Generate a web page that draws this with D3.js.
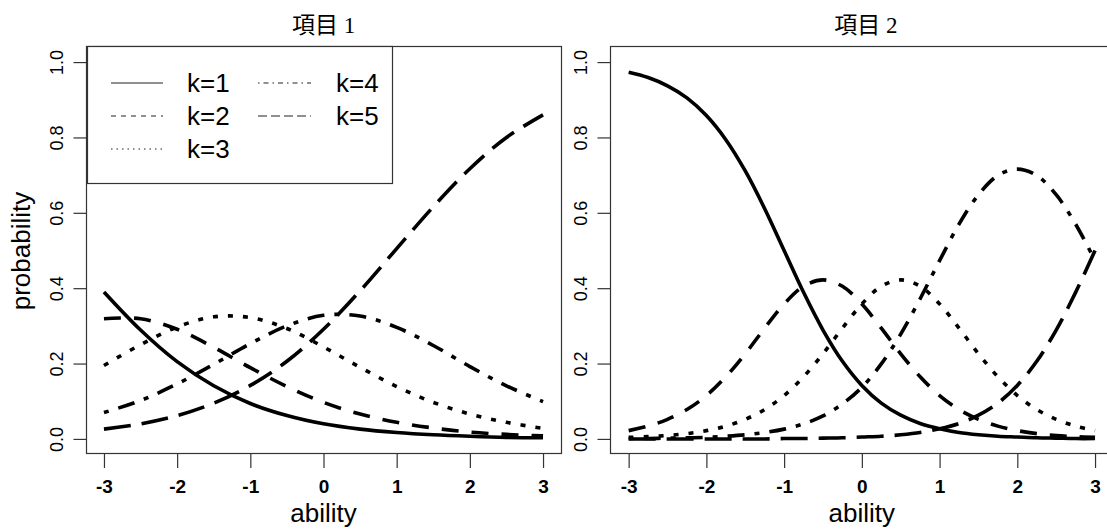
<!DOCTYPE html>
<html><head><meta charset="utf-8">
<script src="https://cdn.jsdelivr.net/npm/d3@7"></script>
<style>
html,body{margin:0;padding:0;background:#fff;}
svg{display:block;}
</style>
</head><body>
<script>
// ---------------- data ----------------
const panelTitles = ["項目 1", "項目 2"];
const seriesLabels = ["k=1", "k=2", "k=3", "k=4", "k=5"];
const xTicks = [-3, -2, -1, 0, 1, 2, 3];
const yTicks = [0, 0.2, 0.4, 0.6, 0.8, 1.0];
const yTickLabels = ["0.0", "0.2", "0.4", "0.6", "0.8", "1.0"];

const ability1 = [-3, -2.5, -2, -1.5, -1, -0.5, 0, 0.5, 1, 1.5, 2, 2.5, 3];
const item1_k1 = [0.390,0.289,0.205,0.141,0.094,0.062,0.040,0.026,0.017,0.011,0.007,0.004,0.003];
const item1_k2 = [0.319,0.319,0.291,0.243,0.189,0.139,0.097,0.066,0.044,0.029,0.018,0.012,0.008];
const item1_k3 = [0.195,0.250,0.297,0.324,0.322,0.293,0.244,0.190,0.139,0.097,0.066,0.044,0.028];
const item1_k4 = [0.070,0.102,0.146,0.198,0.253,0.300,0.328,0.326,0.296,0.248,0.192,0.141,0.099];
const item1_k5 = [0.026,0.040,0.062,0.095,0.142,0.206,0.291,0.393,0.505,0.616,0.717,0.800,0.860];

const ability2 = [-3,-2.75,-2.5,-2.25,-2,-1.75,-1.5,-1.25,-1,-0.75,-0.5,-0.25,0,0.25,0.5,0.75,1,1.25,1.5,1.75,2,2.25,2.5,2.75,3];
const item2_k1 = [0.973,0.959,0.937,0.905,0.858,0.794,0.711,0.611,0.500,0.389,0.289,0.206,0.142,0.095,0.063,0.041,0.027,0.017,0.011,0.007,0.005,0.003,0.002,0.001,0.001];
const item2_k2 = [0.022,0.034,0.052,0.078,0.115,0.165,0.226,0.294,0.358,0.405,0.422,0.405,0.358,0.294,0.226,0.165,0.115,0.078,0.052,0.034,0.022,0.014,0.009,0.006,0.004];
const item2_k3 = [0.004,0.006,0.009,0.014,0.022,0.034,0.052,0.078,0.115,0.165,0.226,0.294,0.358,0.405,0.422,0.405,0.358,0.294,0.226,0.165,0.115,0.078,0.052,0.034,0.022];
const item2_k4 = [0.001,0.001,0.002,0.003,0.004,0.007,0.011,0.017,0.026,0.040,0.061,0.093,0.137,0.199,0.278,0.372,0.473,0.570,0.648,0.699,0.716,0.699,0.648,0.570,0.473];
const item2_k5 = [0.000,0.000,0.000,0.000,0.000,0.000,0.000,0.000,0.001,0.001,0.002,0.003,0.005,0.007,0.011,0.017,0.027,0.041,0.063,0.095,0.142,0.206,0.289,0.389,0.500];

// ---------------- styles ----------------
const plotDash = [null, "17,13", "5,10", "5,10,17,10", "27,11"];
const legendDash = [null, "5,5", "1.5,4", "1.5,4,5,4", "9,4"];
const SANS = "'Liberation Sans', Arial, sans-serif";
const TITLEFONT = "'Liberation Serif', 'Noto Sans CJK JP', serif";
const FRAME = "#333";

const W = 1107, H = 530;
const svg = d3.select("body").append("svg").attr("width", W).attr("height", H);

const yScale = d3.scaleLinear().domain([-0.04, 1.04]).range([454, 47]);

function drawPanel(cfg) {
  const x = d3.scaleLinear().domain([-3.24, 3.24]).range([cfg.left, cfg.right]);
  const g = svg.append("g");

  // curves
  const line = d3.line().x(d => x(d[0])).y(d => yScale(d[1])).curve(d3.curveCatmullRom.alpha(0.5));
  cfg.series.forEach((vals, i) => {
    const pts = cfg.ability.map((a, j) => [a, vals[j]]);
    g.append("path").datum(pts)
      .attr("d", line)
      .attr("fill", "none")
      .attr("stroke", "#000")
      .attr("stroke-width", 3.6)
      .attr("stroke-linejoin", "round")
      .attr("stroke-dasharray", plotDash[i]);
  });

  // frame
  g.append("rect")
    .attr("x", Math.round(cfg.left) + 0.5).attr("y", 46.5)
    .attr("width", Math.round(cfg.right) - Math.round(cfg.left)).attr("height", 407)
    .attr("fill", "none").attr("stroke", FRAME).attr("stroke-width", 1.2);

  // x axis
  const xa = g.append("g").attr("transform", "translate(0,454)")
    .call(d3.axisBottom(x).tickValues(xTicks).tickSize(14).tickPadding(12).tickFormat(d => String(d)));
  xa.select(".domain").remove();
  xa.selectAll(".tick line").attr("stroke", FRAME).attr("stroke-width", 1.2);
  xa.selectAll(".tick text").attr("fill", "#000")
    .style("font-family", SANS).style("font-size", "19px").style("font-weight", "bold");

  // y axis
  const ya = g.append("g").attr("transform", `translate(${Math.round(cfg.left) + 0.5},0)`)
    .call(d3.axisLeft(yScale).tickValues(yTicks).tickSize(13).tickFormat((d, i) => yTickLabels[i]));
  ya.select(".domain").remove();
  ya.selectAll(".tick line").attr("stroke", FRAME).attr("stroke-width", 1.2);
  ya.selectAll(".tick text")
    .attr("x", null).attr("dy", null)
    .attr("transform", "translate(-24,0) rotate(-90)")
    .attr("text-anchor", "middle")
    .attr("fill", "#000")
    .style("font-family", SANS).style("font-size", "18px");

  // title
  g.append("text")
    .attr("x", (cfg.left + cfg.right) / 2 + cfg.titleShift).attr("y", 33)
    .attr("text-anchor", "middle")
    .style("font-family", TITLEFONT).style("font-size", "23px")
    .text(cfg.title);

  // x label
  g.append("text")
    .attr("x", x(0)).attr("y", 522)
    .attr("text-anchor", "middle")
    .style("font-family", SANS).style("font-size", "26px")
    .text("ability");

  return {g, x};
}

const p1 = drawPanel({
  left: 86.4, right: 560.6, title: panelTitles[0], titleShift: 0,
  ability: ability1, series: [item1_k1, item1_k2, item1_k3, item1_k4, item1_k5]
});
const p2 = drawPanel({
  left: 610, right: 1113.7, title: panelTitles[1], titleShift: 4,
  ability: ability2, series: [item2_k1, item2_k2, item2_k3, item2_k4, item2_k5]
});

// y label (left panel only)
svg.append("text")
  .attr("transform", "translate(30,251) rotate(-90)")
  .attr("text-anchor", "middle")
  .style("font-family", SANS).style("font-size", "26px")
  .text("probability");

// legend (left panel)
const lg = svg.append("g");
lg.append("rect").attr("x", 87.5).attr("y", 46.5).attr("width", 305).attr("height", 137)
  .attr("fill", "#fff").attr("stroke", FRAME).attr("stroke-width", 1.2);
const legendCols = [{lx1: 111, lx2: 163, tx: 187}, {lx1: 258, lx2: 311, tx: 336}];
const legendRowY = [83, 116, 149];
seriesLabels.forEach((lab, i) => {
  const col = legendCols[i < 3 ? 0 : 1];
  const yy = legendRowY[i < 3 ? i : i - 3];
  lg.append("line").attr("x1", col.lx1).attr("x2", col.lx2).attr("y1", yy).attr("y2", yy)
    .attr("stroke", "#222").attr("stroke-width", 1.1)
    .attr("stroke-dasharray", legendDash[i]);
  lg.append("text").attr("x", col.tx).attr("y", yy).attr("dy", "0.36em")
    .style("font-family", SANS).style("font-size", "26px")
    .text(lab);
});
</script>
</body></html>
